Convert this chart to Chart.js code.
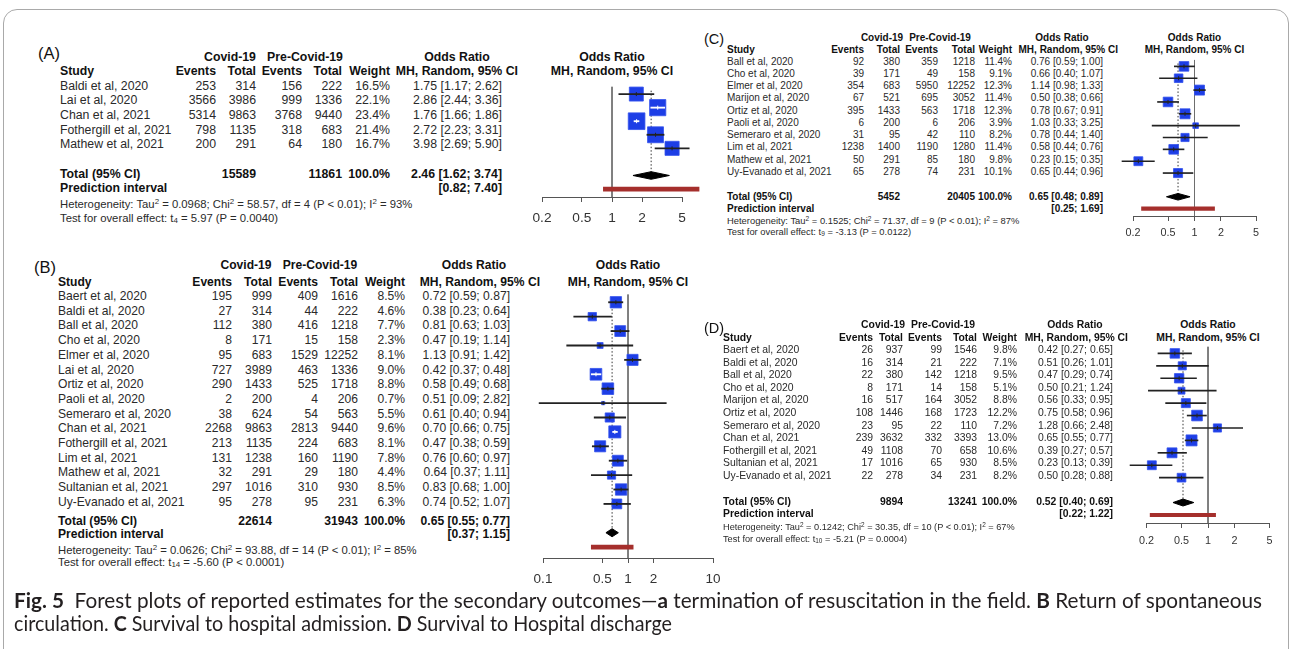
<!DOCTYPE html>
<html>
<head>
<meta charset="utf-8">
<title>Forest plots – secondary outcomes</title>
<script src="https://cdn.jsdelivr.net/npm/chart.js@4.4.1/dist/chart.umd.min.js"></script>
<style>
  html, body { margin: 0; padding: 0; background: #fff; }
  body { width: 1292px; height: 649px; position: relative; overflow: hidden;
         font-family: "Liberation Sans", Arial, Helvetica, sans-serif; color: #2a2a2a; }
  .t { position: absolute; white-space: nowrap; line-height: 1.15; }
  .b { font-weight: bold; color: #111; }
  sup { font-size: 70%; line-height: 0; vertical-align: 0.45em; }
  sub { font-size: 70%; line-height: 0; vertical-align: -0.25em; }
  canvas { position: absolute; }
  #frame { position: absolute; left: 3px; top: 9px; width: 1284px; height: 680px;
           border: 1px solid #a9a9a9; border-radius: 14px; }
  .cap { position: absolute; left: 14px; white-space: nowrap; font-family: Lato, "Open Sans", sans-serif;
         color: #231f20; line-height: 1; transform-origin: 0 50%; }
</style>
</head>
<body>
<div id="frame"></div>
<script>
// ---------- (A) termination of resuscitation in the field ----------
const studiesA = ["Baldi et al, 2020", "Lai et al, 2020", "Chan et al, 2021", "Fothergill et al, 2021", "Mathew et al, 2021"];
const covEventsA = [253, 3566, 5314, 798, 200];
const covTotalA = [314, 3986, 9863, 1135, 291];
const preEventsA = [156, 999, 3768, 318, 64];
const preTotalA = [222, 1336, 9440, 683, 180];
const weightA = [16.5, 22.1, 23.4, 21.4, 16.7];
const orA = [1.75, 2.86, 1.76, 2.72, 3.98];
const lowA = [1.17, 2.44, 1.66, 2.23, 2.69];
const highA = [2.62, 3.36, 1.86, 3.31, 5.90];
const totalsA = [15589, 11861];
const summaryA = [2.46, 1.62, 3.74];
const predA = [0.82, 7.40];
const hetA = ["0.0968", "58.57", "4", "P < 0.01", "93%"];
const testA = ["4", "5.97", "P = 0.0040"];
const ticksA = [0.2, 0.5, 1, 2, 5];

// ---------- (B) return of spontaneous circulation ----------
const studiesB = ["Baert et al, 2020", "Baldi et al, 2020", "Ball et al, 2020", "Cho et al, 2020", "Elmer et al, 2020",
  "Lai et al, 2020", "Ortiz et al, 2020", "Paoli et al, 2020", "Semeraro et al, 2020", "Chan et al, 2021",
  "Fothergill et al, 2021", "Lim et al, 2021", "Mathew et al, 2021", "Sultanian et al, 2021", "Uy-Evanado et al, 2021"];
const covEventsB = [195, 27, 112, 8, 95, 727, 290, 2, 38, 2268, 213, 131, 32, 297, 95];
const covTotalB = [999, 314, 380, 171, 683, 3989, 1433, 200, 624, 9863, 1135, 1238, 291, 1016, 278];
const preEventsB = [409, 44, 416, 15, 1529, 463, 525, 4, 54, 2813, 224, 160, 29, 310, 95];
const preTotalB = [1616, 222, 1218, 158, 12252, 1336, 1718, 206, 563, 9440, 683, 1190, 180, 930, 231];
const weightB = [8.5, 4.6, 7.7, 2.3, 8.1, 9.0, 8.8, 0.7, 5.5, 9.6, 8.1, 7.8, 4.4, 8.5, 6.3];
const orB = [0.72, 0.38, 0.81, 0.47, 1.13, 0.42, 0.58, 0.51, 0.61, 0.70, 0.47, 0.76, 0.64, 0.83, 0.74];
const lowB = [0.59, 0.23, 0.63, 0.19, 0.91, 0.37, 0.49, 0.09, 0.40, 0.66, 0.38, 0.60, 0.37, 0.68, 0.52];
const highB = [0.87, 0.64, 1.03, 1.14, 1.42, 0.48, 0.68, 2.82, 0.94, 0.75, 0.59, 0.97, 1.11, 1.00, 1.07];
const totalsB = [22614, 31943];
const summaryB = [0.65, 0.55, 0.77];
const predB = [0.37, 1.15];
const hetB = ["0.0626", "93.88", "14", "P < 0.01", "85%"];
const testB = ["14", "-5.60", "P < 0.0001"];
const ticksB = [0.1, 0.5, 1, 2, 10];

// ---------- (C) survival to hospital admission ----------
const studiesC = ["Ball et al, 2020", "Cho et al, 2020", "Elmer et al, 2020", "Marijon et al, 2020", "Ortiz et al, 2020",
  "Paoli et al, 2020", "Semeraro et al, 2020", "Lim et al, 2021", "Mathew et al, 2021", "Uy-Evanado et al, 2021"];
const covEventsC = [92, 39, 354, 67, 395, 6, 31, 1238, 50, 65];
const covTotalC = [380, 171, 683, 521, 1433, 200, 95, 1400, 291, 278];
const preEventsC = [359, 49, 5950, 695, 563, 6, 42, 1190, 85, 74];
const preTotalC = [1218, 158, 12252, 3052, 1718, 206, 110, 1280, 180, 231];
const weightC = [11.4, 9.1, 12.3, 11.4, 12.3, 3.9, 8.2, 11.4, 9.8, 10.1];
const orC = [0.76, 0.66, 1.14, 0.50, 0.78, 1.03, 0.78, 0.58, 0.23, 0.65];
const lowC = [0.59, 0.40, 0.98, 0.38, 0.67, 0.33, 0.44, 0.44, 0.15, 0.44];
const highC = [1.00, 1.07, 1.33, 0.66, 0.91, 3.25, 1.40, 0.76, 0.35, 0.96];
const totalsC = [5452, 20405];
const summaryC = [0.65, 0.48, 0.89];
const predC = [0.25, 1.69];
const hetC = ["0.1525", "71.37", "9", "P < 0.01", "87%"];
const testC = ["9", "-3.13", "P = 0.0122"];
const ticksC = [0.2, 0.5, 1, 2, 5];

// ---------- (D) survival to hospital discharge ----------
const studiesD = ["Baert et al, 2020", "Baldi et al, 2020", "Ball et al, 2020", "Cho et al, 2020", "Marijon et al, 2020",
  "Ortiz et al, 2020", "Semeraro et al, 2020", "Chan et al, 2021", "Fothergill et al, 2021", "Sultanian et al, 2021",
  "Uy-Evanado et al, 2021"];
const covEventsD = [26, 16, 22, 8, 16, 108, 23, 239, 49, 17, 22];
const covTotalD = [937, 314, 380, 171, 517, 1446, 95, 3632, 1108, 1016, 278];
const preEventsD = [99, 21, 142, 14, 164, 168, 22, 332, 70, 65, 34];
const preTotalD = [1546, 222, 1218, 158, 3052, 1723, 110, 3393, 658, 930, 231];
const weightD = [9.8, 7.1, 9.5, 5.1, 8.8, 12.2, 7.2, 13.0, 10.6, 8.5, 8.2];
const orD = [0.42, 0.51, 0.47, 0.50, 0.56, 0.75, 1.28, 0.65, 0.39, 0.23, 0.50];
const lowD = [0.27, 0.26, 0.29, 0.21, 0.33, 0.58, 0.66, 0.55, 0.27, 0.13, 0.28];
const highD = [0.65, 1.01, 0.74, 1.24, 0.95, 0.96, 2.48, 0.77, 0.57, 0.39, 0.88];
const totalsD = [9894, 13241];
const summaryD = [0.52, 0.40, 0.69];
const predD = [0.22, 1.22];
const hetD = ["0.1242", "30.35", "10", "P < 0.01", "67%"];
const testD = ["10", "-5.21", "P = 0.0004"];
const ticksD = [0.2, 0.5, 1, 2, 5];

// ---------- page layout (pixels) ----------
const layA = { tag: "(A)", tagX: 38, tagY: 53, tagSize: 16.5, font: 12.3, hetFont: 11.3,
  head1Y: 57, head2Y: 71, studyX: 60, grp: [230, 305, 457], cols: [216, 256, 302, 342, 390, 502], mhRight: 518,
  rowY: 85.8, rowStep: 14.65, totalY: 173.5, predY: 188, hetY: 203.5, testY: 218,
  plotLeft: 542, plotRight: 682, plotRowY: 85.5, plotStep: 14.7, axisY: 197, tickY: 218, tickFont: 13.7,
  boxK: 3.45, whisk: 1.2, predW: 4 };
const layB = { tag: "(B)", tagX: 34, tagY: 267, tagSize: 16.5, font: 12.1, hetFont: 11.3,
  head1Y: 266, head2Y: 283, studyX: 58, grp: [246, 320, 474], cols: [232, 272, 318, 358, 405, 510], mhRight: 540,
  rowY: 297, rowStep: 14.7, totalY: 522, predY: 535, hetY: 550, testY: 562,
  plotLeft: 543, plotRight: 713, plotRowY: 297, plotStep: 14.7, axisY: 558, tickY: 579, tickFont: 13.5,
  boxK: 3.9, whisk: 1.2, predW: 4 };
const layC = { tag: "(C)", tagX: 704, tagY: 39, tagSize: 14.5, font: 10.0, hetFont: 9.4,
  head1Y: 38, head2Y: 50, studyX: 727, grp: [882, 940, 1062], cols: [864, 900, 938, 975, 1012, 1103], mhRight: 1118,
  rowY: 61.5, rowStep: 12.25, totalY: 196.5, predY: 208.5, hetY: 221, testY: 232,
  plotLeft: 1133, plotRight: 1256, plotRowY: 62, plotStep: 12.2, axisY: 216, tickY: 233, tickFont: 10.8,
  boxK: 2.85, whisk: 1, predW: 3.5 };
const layD = { tag: "(D)", tagX: 704, tagY: 328, tagSize: 14.5, font: 10.4, hetFont: 9.2,
  head1Y: 325, head2Y: 338, studyX: 723, grp: [883, 943, 1075], cols: [873, 903, 942, 977, 1017, 1113], mhRight: 1128,
  rowY: 350, rowStep: 12.6, totalY: 501.5, predY: 514, hetY: 526.5, testY: 539,
  plotLeft: 1146.5, plotRight: 1269.5, plotRowY: 349, plotStep: 12.75, axisY: 523, tickY: 541, tickFont: 10.8,
  boxK: 3.05, whisk: 1, predW: 3.5 };

const panels = [
  { lay: layA, studies: studiesA, covEv: covEventsA, covTot: covTotalA, preEv: preEventsA, preTot: preTotalA,
    weight: weightA, or: orA, lo: lowA, hi: highA, totals: totalsA, summary: summaryA, pred: predA,
    het: hetA, test: testA, ticks: ticksA },
  { lay: layB, studies: studiesB, covEv: covEventsB, covTot: covTotalB, preEv: preEventsB, preTot: preTotalB,
    weight: weightB, or: orB, lo: lowB, hi: highB, totals: totalsB, summary: summaryB, pred: predB,
    het: hetB, test: testB, ticks: ticksB },
  { lay: layC, studies: studiesC, covEv: covEventsC, covTot: covTotalC, preEv: preEventsC, preTot: preTotalC,
    weight: weightC, or: orC, lo: lowC, hi: highC, totals: totalsC, summary: summaryC, pred: predC,
    het: hetC, test: testC, ticks: ticksC },
  { lay: layD, studies: studiesD, covEv: covEventsD, covTot: covTotalD, preEv: preEventsD, preTot: preTotalD,
    weight: weightD, or: orD, lo: lowD, hi: highD, totals: totalsD, summary: summaryD, pred: predD,
    het: hetD, test: testD, ticks: ticksD }
];

Chart.defaults.font.family = "'Liberation Sans', Arial, sans-serif";

function put(x, y, html, o) {
  const d = document.createElement('div');
  d.className = 't' + (o.bold ? ' b' : '');
  d.style.left = x + 'px';
  d.style.top = y + 'px';
  d.style.fontSize = o.size + 'px';
  if (o.color) d.style.color = o.color;
  const dx = o.align === 'right' ? '-100%' : o.align === 'center' ? '-50%' : '0';
  d.style.transform = 'translate(' + dx + ',-50%)';
  d.innerHTML = html;
  document.body.appendChild(d);
}

function ci(o, l, h) {
  return (o == null ? '' : o.toFixed(2) + ' ') + '[' + l.toFixed(2) + '; ' + h.toFixed(2) + ']';
}

function drawTable(p) {
  const L = p.lay, f = L.font;
  put(L.tagX, L.tagY, L.tag, { size: L.tagSize, color: '#111' });
  put(L.grp[0], L.head1Y, 'Covid-19', { size: f, bold: true, align: 'center' });
  put(L.grp[1], L.head1Y, 'Pre-Covid-19', { size: f, bold: true, align: 'center' });
  put(L.grp[2], L.head1Y, 'Odds Ratio', { size: f, bold: true, align: 'center' });
  put(L.studyX, L.head2Y, 'Study', { size: f, bold: true });
  ['Events', 'Total', 'Events', 'Total', 'Weight'].forEach((h, k) =>
    put(L.cols[k], L.head2Y, h, { size: f, bold: true, align: 'right' }));
  put(L.mhRight, L.head2Y, 'MH, Random, 95% CI', { size: f, bold: true, align: 'right' });

  p.studies.forEach((s, i) => {
    const y = L.rowY + i * L.rowStep;
    put(L.studyX, y, s, { size: f });
    const vals = [p.covEv[i], p.covTot[i], p.preEv[i], p.preTot[i], p.weight[i].toFixed(1) + '%',
      ci(p.or[i], p.lo[i], p.hi[i])];
    vals.forEach((v, k) => put(L.cols[k], y, String(v), { size: f, align: 'right' }));
  });

  put(L.studyX, L.totalY, 'Total (95% CI)', { size: f, bold: true });
  put(L.cols[1], L.totalY, String(p.totals[0]), { size: f, bold: true, align: 'right' });
  put(L.cols[3], L.totalY, String(p.totals[1]), { size: f, bold: true, align: 'right' });
  put(L.cols[4], L.totalY, '100.0%', { size: f, bold: true, align: 'right' });
  put(L.cols[5], L.totalY, ci(p.summary[0], p.summary[1], p.summary[2]), { size: f, bold: true, align: 'right' });
  put(L.studyX, L.predY, 'Prediction interval', { size: f, bold: true });
  put(L.cols[5], L.predY, ci(null, p.pred[0], p.pred[1]), { size: f, bold: true, align: 'right' });

  const h = p.het;
  put(L.studyX, L.hetY, 'Heterogeneity: Tau<sup>2</sup> = ' + h[0] + '; Chi<sup>2</sup> = ' + h[1] +
    ', df = ' + h[2] + ' (' + h[3].replace('<', '&lt;') + '); I<sup>2</sup> = ' + h[4], { size: L.hetFont });
  const t = p.test;
  put(L.studyX, L.testY, 'Test for overall effect: t<sub>' + t[0] + '</sub> = ' + t[1] +
    ' (' + t[2].replace('<', '&lt;') + ')', { size: L.hetFont });

  const mid = (L.plotLeft + L.plotRight) / 2;
  put(mid, L.head1Y, 'Odds Ratio', { size: f, bold: true, align: 'center' });
  put(mid, L.head2Y, 'MH, Random, 95% CI', { size: f, bold: true, align: 'center' });
}

function drawForest(p) {
  const L = p.lay, n = p.studies.length;
  const sumRow = n + 1, predRow = n + 2, topRow = -0.55;
  const yMax = (L.axisY - L.plotRowY) / L.plotStep;
  const chartTop = L.plotRowY + topRow * L.plotStep;
  const tickLen = 5;
  const tickPad = L.tickY - L.axisY - tickLen - 0.6 * L.tickFont;
  const cvLeft = Math.floor(L.plotLeft - 24), cvTop = Math.floor(chartTop - 3);
  const cvW = Math.ceil(L.plotRight + 24) - cvLeft;
  const cvH = Math.ceil(L.axisY - cvTop + tickLen + tickPad + 1.2 * L.tickFont + 3);
  const axisH = cvH - (L.axisY - cvTop);

  const canvas = document.createElement('canvas');
  canvas.width = cvW;
  canvas.height = cvH;
  canvas.style.left = cvLeft + 'px';
  canvas.style.top = cvTop + 'px';
  document.body.appendChild(canvas);

  const side = p.weight.map(w => L.boxK * Math.sqrt(w));
  // CI line is drawn white when it fits inside its square
  const lineColor = (c) => {
    const sx = c.chart.scales.x, i = c.dataIndex;
    if (i === undefined || !sx) return '#222';
    const span = sx.getPixelForValue(p.hi[i]) - sx.getPixelForValue(p.lo[i]);
    return span < side[i] ? '#ffffff' : '#222';
  };
  const est = p.summary[0];

  new Chart(canvas, {
    type: 'scatter',
    data: {
      datasets: [
        { type: 'scatter', data: p.or.map((v, i) => ({ x: v, y: i })), pointStyle: 'line', pointRotation: 90,
          pointRadius: 2, pointBorderWidth: 1, pointBorderColor: lineColor, clip: false, order: 0 },
        { type: 'bar', indexAxis: 'y', data: p.studies.map((s, i) => ({ y: i, x: [p.lo[i], p.hi[i]] })),
          grouped: false, barThickness: L.whisk, maxBarThickness: L.whisk, backgroundColor: lineColor,
          borderWidth: 0, clip: false, order: 1 },
        { type: 'scatter', data: p.or.map((v, i) => ({ x: v, y: i })), pointStyle: 'rect',
          pointRadius: side.map(s => s / Math.SQRT2), pointBackgroundColor: '#1d3ee6',
          pointBorderColor: '#3553ee', pointBorderWidth: 0.8, clip: false, order: 2 },
        { type: 'scatter', showLine: true, fill: 'shape', pointRadius: 0, borderWidth: 1,
          borderColor: '#000', backgroundColor: '#000',
          data: [{ x: p.summary[1], y: sumRow }, { x: est, y: sumRow - 0.28 }, { x: p.summary[2], y: sumRow },
                 { x: est, y: sumRow + 0.28 }, { x: p.summary[1], y: sumRow }], order: 3 },
        { type: 'bar', indexAxis: 'y', data: [{ y: predRow, x: p.pred }], grouped: false,
          barThickness: L.predW, maxBarThickness: L.predW, backgroundColor: '#a52f2c', borderWidth: 0,
          clip: false, order: 3 },
        { type: 'scatter', showLine: true, pointRadius: 0, borderWidth: 1, borderColor: '#6e6e6e',
          data: [{ x: 1, y: topRow }, { x: 1, y: yMax }], order: 4 },
        { type: 'scatter', showLine: true, pointRadius: 0, borderWidth: 1, borderColor: '#333',
          borderDash: [1.5, 2], data: [{ x: est, y: topRow + 0.3 }, { x: est, y: sumRow }], order: 4 }
      ]
    },
    options: {
      responsive: false,
      animation: false,
      devicePixelRatio: 1,
      events: [],
      layout: { padding: { left: L.plotLeft - cvLeft, right: cvLeft + cvW - L.plotRight,
                           top: chartTop - cvTop, bottom: 0 } },
      plugins: { legend: { display: false }, tooltip: { enabled: false } },
      scales: {
        x: {
          type: 'logarithmic', min: p.ticks[0], max: p.ticks[p.ticks.length - 1],
          beginAtZero: false, offset: false,
          afterBuildTicks: s => { s.ticks = p.ticks.map(v => ({ value: v })); },
          afterFit: s => { s.height = axisH; },
          ticks: { callback: v => String(v), color: '#333', padding: tickPad, maxRotation: 0, autoSkip: false,
                   font: { size: L.tickFont } },
          grid: { display: true, drawOnChartArea: false, drawTicks: true, tickLength: tickLen,
                  tickColor: '#555', tickWidth: 1 },
          border: { display: true, color: '#555', width: 1 }
        },
        y: { type: 'linear', reverse: true, min: topRow, max: yMax, display: false, offset: false }
      }
    }
  });
}

panels.forEach(p => { drawTable(p); drawForest(p); });

// ---------- caption ----------
const capLines = [
  '<b>Fig. 5</b>&nbsp; Forest plots of reported estimates for the secondary outcomes—<b>a</b> termination of resuscitation in the field. <b>B</b> Return of spontaneous',
  'circulation. <b>C</b> Survival to hospital admission. <b>D</b> Survival to Hospital discharge'
];
const capY = [600, 623];
const capWidth = [1248, 658];
capLines.forEach((h, k) => {
  const d = document.createElement('div');
  d.className = 'cap';
  d.style.fontSize = '20.5px';
  d.style.top = capY[k] + 'px';
  d.innerHTML = h;
  document.body.appendChild(d);
  const s = capWidth[k] / d.getBoundingClientRect().width;
  d.style.transform = 'translateY(-50%) scaleX(' + s.toFixed(4) + ')';
});
</script>
</body>
</html>
